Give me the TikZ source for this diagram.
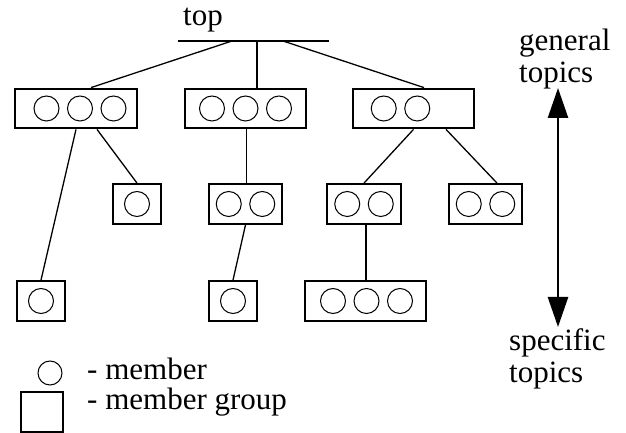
\documentclass[tikz,border=0pt]{standalone}
\usepackage{fontspec}
\setmainfont{Liberation Serif}
\usetikzlibrary{arrows.meta}
\tikzstyle{grpthree} = [rectangle, minimum width=121.5pt, minimum height=39.5pt, inner sep=0pt, draw=black, line width=2.3pt]
\tikzstyle{grptwo} = [rectangle, minimum width=73.5pt, minimum height=39.5pt, inner sep=0pt, draw=black, line width=2.3pt]
\tikzstyle{grpone} = [rectangle, minimum width=48pt, minimum height=39.5pt, inner sep=0pt, draw=black, line width=2.3pt]
\tikzstyle{member} = [draw=black, line width=1pt]
\tikzstyle{link} = [line width=1.3pt]
\tikzstyle{lbl} = [font=\fontsize{31}{32}\selectfont, inner sep=0pt]
\tikzstyle{scalearrow} = [line width=2.5pt, {Triangle[length=30pt,width=20pt]}-{Triangle[length=30pt,width=20pt]}]

\begin{document}
\begin{tikzpicture}[x=1pt, y=1pt, node distance=100pt]
\useasboundingbox (0,0) rectangle (626,433);

%Top
\node (top) [lbl, anchor=base] at (203,407) {top};
\coordinate (barL) at (178,392);
\coordinate (barR) at (329,392);
\coordinate (t1) at (232,392);
\coordinate (t2) at (257,392);
\coordinate (t3) at (283,392);
\draw [line width=2pt] (barL) -- (barR);

%Row 1
\node (A) [grpthree] at (76,324.5) {};
\node (B) [grpthree, right of=A, xshift=69.5] {};
\node (C) [grpthree, right of=B, xshift=68] {};
%Row 2
\node (D) [grpone, below of=A, xshift=61, yshift=4.5] {};
\node (E) [grptwo, below of=B, yshift=4.5] {};
\node (F) [grptwo, below of=C, xshift=-49.5, yshift=4.5] {};
\node (G) [grptwo, below of=C, xshift=72, yshift=4.5] {};
%Row 3
\node (H) [grpone, below of=A, xshift=-35, yshift=-92.5] {};
\node (I) [grpone, below of=E, xshift=-12.5, yshift=3] {};
\node (J) [grpthree, below of=F, xshift=1.5, yshift=3] {};

%members
\foreach \b/\n/\off in {A/3/4, B/3/0, C/2/-13, D/1/0, E/2/0, F/2/0, G/2/0, H/1/0, I/1/0, J/3/1}
  \foreach \i in {1,...,\n}
    \draw [member] ([xshift={(\i-(\n+1)/2)*33.5+\off}]\b.center) circle (12.5);

%links
\draw [link] (t1) -- ([xshift=15]A.north);
\draw [link] (t2) -- ([xshift=11.5]B.north);
\draw [link] (t3) -- ([xshift=10.5]C.north);
\draw [link] (A.south) -- (H.north);
\draw [link] ([xshift=21]A.south) -- (D.north);
\draw [link] ([xshift=1]B.south) -- ([xshift=1]E.north);
\draw [link] (E.south) -- (I.north);
\draw [link] (C.south) -- (F.north);
\draw [link] ([xshift=32.5]C.south) -- ([xshift=11.5]G.north);
\draw [link] ([xshift=2]F.south) -- ([xshift=2]F.south |- J.north);

%Legend
\draw [member] (50,60) circle (12);
\node (kmem) [lbl, anchor=base west] at (87,53) {- member};
\node (kgrp) [rectangle, minimum width=42pt, minimum height=40pt, draw=black, line width=2.3pt] at (42,21) {};
\node (kgrptxt) [lbl, anchor=base west] at (87,23) {- member group};

%Scale
\node (gen) [lbl, anchor=base west, align=left] at (519,350) {general\\topics};
\node (spec) [lbl, anchor=base west, align=left] at (509,50) {specific\\topics};
\coordinate (genpt) at (558,345);
\coordinate (specpt) at (558,106);
\draw [scalearrow] (genpt) -- (specpt);

\end{tikzpicture}
\end{document}
